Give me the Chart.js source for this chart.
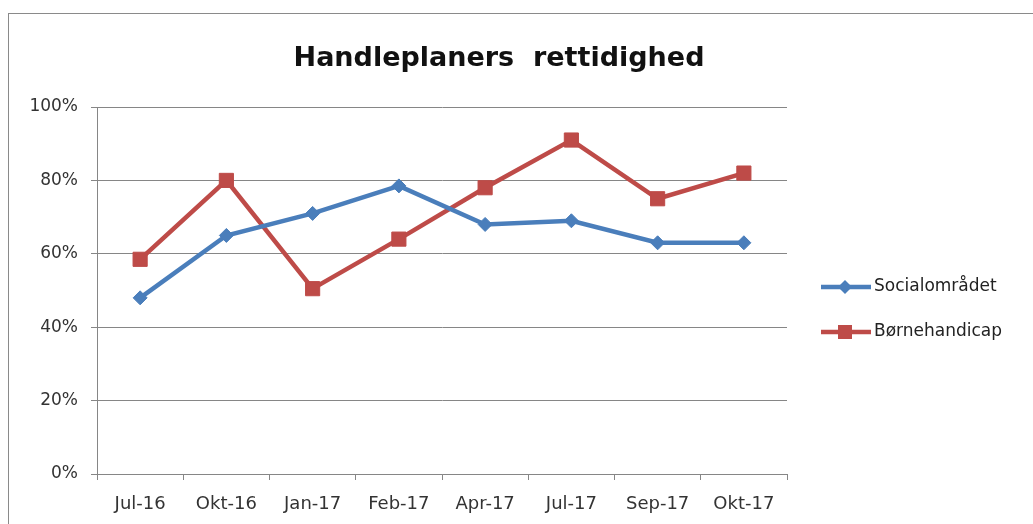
<!DOCTYPE html>
<html>
<head>
<meta charset="utf-8">
<script src="https://cdn.jsdelivr.net/npm/chart.js@4"></script>
<style>
  html, body { margin: 0; padding: 0; background: #fff; }
  #wrap { position: relative; width: 1033px; height: 524px; }
  #frame { position: absolute; left: 8px; top: 13px; width: 1040px; height: 530px; border: 1px solid #8a8a8a; box-sizing: border-box; pointer-events: none; }
  canvas { position: absolute; left: 0; top: 0; }
</style>
</head>
<body>
<div id="wrap">
  <canvas id="c" width="1033" height="524"></canvas>
  <div id="frame"></div>
</div>
<script>
const titleText = 'Handleplaners  rettidighed';
const categories = ['Jul-16', 'Okt-16', 'Jan-17', 'Feb-17', 'Apr-17', 'Jul-17', 'Sep-17', 'Okt-17'];
const socialomraadet = [48, 65, 71, 78.5, 68, 69, 63, 63];
const boernehandicap = [58.5, 80, 50.5, 64, 78, 91, 75, 82];
const seriesNames = ['Socialområdet', 'Børnehandicap'];
const yTicks = [0, 20, 40, 60, 80, 100];

const BLUE = '#4A7EBB';
const RED = '#BE4B48';
const FONT = "'DejaVu Sans', Arial, sans-serif";

const titlePlugin = {
  id: 'drawnTitle',
  afterDraw(chart) {
    const ctx = chart.ctx;
    ctx.save();
    ctx.fillStyle = '#111';
    ctx.font = 'bold 27px ' + FONT;
    ctx.textAlign = 'center';
    ctx.textBaseline = 'alphabetic';
    ctx.fillText(titleText, 499, 66);
    ctx.restore();
  }
};

const legendPlugin = {
  id: 'sideLegend',
  afterDraw(chart) {
    const ctx = chart.ctx;
    const items = chart.data.datasets;
    const x0 = 821, ys = [287, 332];
    ctx.save();
    items.forEach((ds, i) => {
      const y = ys[i];
      ctx.strokeStyle = ds.borderColor;
      ctx.lineWidth = 4.5;
      ctx.beginPath(); ctx.moveTo(x0, y); ctx.lineTo(x0 + 50, y); ctx.stroke();
      ctx.fillStyle = ds.pointBackgroundColor;
      const cx = x0 + 24;
      if (ds.pointStyle === 'rectRot') {
        ctx.beginPath();
        ctx.moveTo(cx, y - 7); ctx.lineTo(cx + 7, y); ctx.lineTo(cx, y + 7); ctx.lineTo(cx - 7, y);
        ctx.closePath(); ctx.fill();
      } else {
        ctx.fillRect(cx - 7, y - 7, 14, 14);
      }
      ctx.fillStyle = '#222';
      ctx.font = '17px ' + FONT;
      ctx.textBaseline = 'middle';
      ctx.textAlign = 'left';
      ctx.fillText(ds.label, x0 + 53, y);
    });
    ctx.restore();
  }
};

new Chart(document.getElementById('c'), {
  type: 'line',
  data: {
    labels: categories,
    datasets: [
      {
        label: seriesNames[0], data: socialomraadet,
        borderColor: BLUE, backgroundColor: BLUE, pointBackgroundColor: BLUE, pointBorderColor: BLUE,
        borderWidth: 4.5, pointStyle: 'rectRot', pointRadius: 7, pointBorderWidth: 1, tension: 0
      },
      {
        label: seriesNames[1], data: boernehandicap,
        borderColor: RED, backgroundColor: RED, pointBackgroundColor: RED, pointBorderColor: RED,
        borderWidth: 4.5, pointStyle: 'rect', pointRadius: 10, pointBorderWidth: 1, tension: 0
      }
    ]
  },
  options: {
    responsive: false,
    animation: false,
    layout: { padding: { left: 20, right: 246, top: 107, bottom: 0 } },
    plugins: {
      legend: { display: false },
      tooltip: { enabled: false },
      title: { display: false }
    },
    scales: {
      x: {
        offset: true,
        afterFit(scale) { scale.height = 50; },
        grid: { display: true, drawOnChartArea: false, drawTicks: true, tickLength: 6, offset: true, color: '#868686' },
        border: { display: true, color: '#868686', width: 1 },
        ticks: { color: '#333', font: { family: FONT, size: 18 }, padding: 14, maxRotation: 0, autoSkip: false }
      },
      y: {
        min: 0, max: 100,
        afterBuildTicks(scale) { scale.ticks = yTicks.map(v => ({ value: v })); },
        afterFit(scale) { scale.width = 77; },
        grid: { color: '#868686', tickLength: 6, lineWidth: 1 },
        border: { display: true, color: '#868686', width: 1 },
        ticks: { color: '#333', font: { family: FONT, size: 17 }, padding: 13, callback: v => v + '%' }
      }
    }
  },
  plugins: [titlePlugin, legendPlugin]
});
</script>
</body>
</html>
